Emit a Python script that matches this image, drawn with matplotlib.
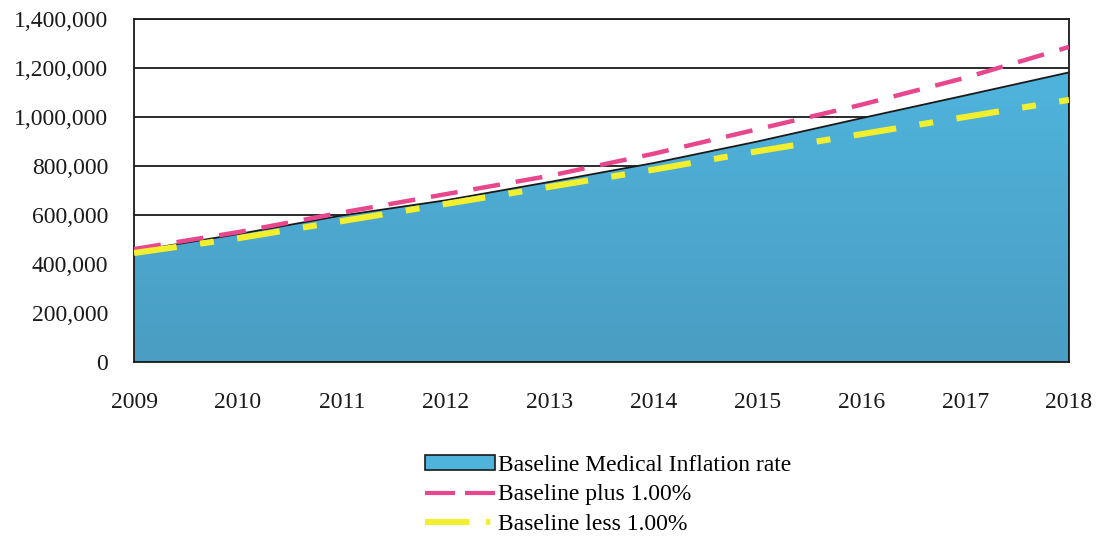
import matplotlib
matplotlib.use("Agg")
import matplotlib.pyplot as plt
import numpy as np
from matplotlib.patches import Patch
from matplotlib.lines import Line2D
from matplotlib.colors import LinearSegmentedColormap

plt.rcParams['font.family'] = ['Liberation Serif', 'DejaVu Serif']
plt.rcParams['lines.scale_dashes'] = False

years = [2009, 2010, 2011, 2012, 2013, 2014, 2015, 2016, 2017, 2018]
baseline = [452000, 522000, 598000, 660000, 735000, 812000, 900000, 995000, 1088000, 1182000]
plus_1pct = [461000, 530000, 610000, 685000, 760000, 850000, 950000, 1050000, 1160000, 1286000]
less_1pct = [445000, 505000, 575000, 645000, 715000, 785000, 860000, 930000, 1000000, 1070000]
y_ticks = [0, 200000, 400000, 600000, 800000, 1000000, 1200000, 1400000]

label_base = "Baseline Medical Inflation rate"
label_plus = "Baseline plus 1.00%"
label_less = "Baseline less 1.00%"

area_top = "#4fb4dc"
area_bottom = "#4a9dc3"
pink = "#e8478e"
yellow = "#f2ef2e"
ink = "#1a1a1a"

fig = plt.figure(figsize=(10.97, 5.38), dpi=100)
ax = fig.add_axes([0.1222, 0.3271, 0.8523, 0.6376])

# shaded area with a slight vertical gradient
poly = ax.fill_between(years, baseline, 0, facecolor=area_top, edgecolor="none", zorder=2)
cmap = LinearSegmentedColormap.from_list("area", [area_bottom, area_top])
grad = np.linspace(0, 1, 256).reshape(-1, 1)
img = ax.imshow(grad, cmap=cmap, origin="lower", aspect="auto",
                extent=[years[0], years[-1], 0, max(baseline)], zorder=2.1)
img.set_clip_path(poly.get_paths()[0], ax.transData)
ax.plot(years, baseline, color=ink, lw=1.3, zorder=3)
ax.plot([years[-1], years[-1]], [0, baseline[-1]], color=ink, lw=1.3, zorder=3)

ax.plot(years, plus_1pct, color=pink, lw=3.2, dashes=(19.5, 11.5),
        solid_capstyle="butt", dash_capstyle="butt", zorder=4)
ax.plot(years, less_1pct, color=yellow, lw=4.4, dashes=(31, 17, 10, 17),
        dash_capstyle="butt", zorder=5)

ax.set_xlim(years[0], years[-1])
ax.set_ylim(0, 1400000)
ax.set_yticks(y_ticks)
ax.set_yticklabels([f"{v:,}" for v in y_ticks])
ax.set_xticks(years)
ax.set_xticklabels([str(y) for y in years])
ax.tick_params(axis="both", length=0, labelsize=17, colors=ink)
ax.tick_params(axis="y", pad=18.5)
ax.tick_params(axis="x", pad=21.5)

for yv in y_ticks:
    ax.axhline(yv, color=ink, lw=1.3, zorder=1)
for s in ax.spines.values():
    s.set_color(ink)
    s.set_linewidth(1.3)

handles = [
    Patch(facecolor=area_top, edgecolor=ink, linewidth=1.2),
    Line2D([], [], color=pink, lw=3.0, dashes=(21.6, 7.2), dash_capstyle="butt"),
    Line2D([], [], color=yellow, lw=4.4, dashes=(32, 12, 3, 12), dash_capstyle="butt"),
]
fig.legend(handles, [label_base, label_plus, label_less],
           loc="upper left", bbox_to_anchor=(0.3765, 0.1766), frameon=False,
           fontsize=17, handlelength=2.97, handleheight=0.55, handletextpad=0.13,
           labelspacing=0.36, borderpad=0)

fig.savefig("out.png", dpi=100, facecolor="white")
